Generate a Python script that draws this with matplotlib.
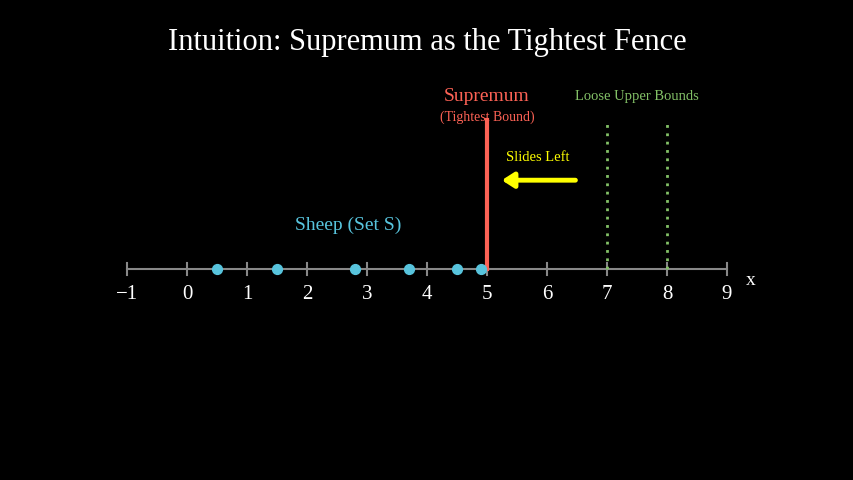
import matplotlib.pyplot as plt

plt.rcParams['font.family'] = ['Liberation Serif', 'DejaVu Serif']

ticks = list(range(-1, 10))
sheep = [0.5, 1.5, 2.8, 3.7, 4.5, 4.9]
supremum = 5
loose_bounds = [7, 8]

fig = plt.figure(figsize=(8.54, 4.8), dpi=100, facecolor='black')
ax = fig.add_axes([0, 0, 1, 1])
ax.set_facecolor('black')
ax.set_xlim(-3.1167, 11.1167)
ax.set_ylim(-3.5167, 4.4833)
ax.axis('off')

# number line
ax.plot([ticks[0], ticks[-1]], [0, 0], color='#888888', lw=1.5, zorder=1)
for t in ticks:
    ax.plot([t, t], [-0.1, 0.1], color='#888888', lw=1.5, zorder=1)
    lab = '\u22121' if t < 0 else str(t)
    ax.text(t, -0.42, lab, color='white', fontsize=15, ha='center', va='center')
ax.text(9.4, -0.2, 'x', color='white', fontsize=14, ha='center', va='center')

# sheep
ax.scatter(sheep, [0] * len(sheep), s=50, color='#58C4DD', zorder=3)
ax.text(2.68, 0.73, 'Sheep (Set S)', color='#58C4DD', fontsize=14, ha='center', va='center')

# supremum fence
ax.plot([supremum, supremum], [0, 2.48], color='#FC6255', lw=3, zorder=2)
ax.text(supremum, 2.88, 'Supremum', color='#FC6255', fontsize=14, ha='center', va='center')
ax.text(supremum, 2.53, '(Tightest Bound)', color='#FC6255', fontsize=10, ha='center', va='center')

# loose bounds
for b in loose_bounds:
    ax.plot([b, b], [0, 2.48], color='#83C167', lw=2, ls=(0, (1, 2)), zorder=2)
ax.text(7.5, 2.87, 'Loose Upper Bounds', color='#83C167', fontsize=10.5, ha='center', va='center')

# arrow
ax.annotate('', xy=(5.2, 1.48), xytext=(6.52, 1.48),
            arrowprops=dict(arrowstyle='-|>,head_width=0.45,head_length=0.7', color='yellow', lw=3.5))
ax.text(5.85, 1.85, 'Slides Left', color='yellow', fontsize=10.5, ha='center', va='center')

ax.text(4.0, 3.78, 'Intuition: Supremum as the Tightest Fence', color='white', fontsize=22,
        ha='center', va='center')

fig.savefig('out.png', dpi=100, facecolor='black')
